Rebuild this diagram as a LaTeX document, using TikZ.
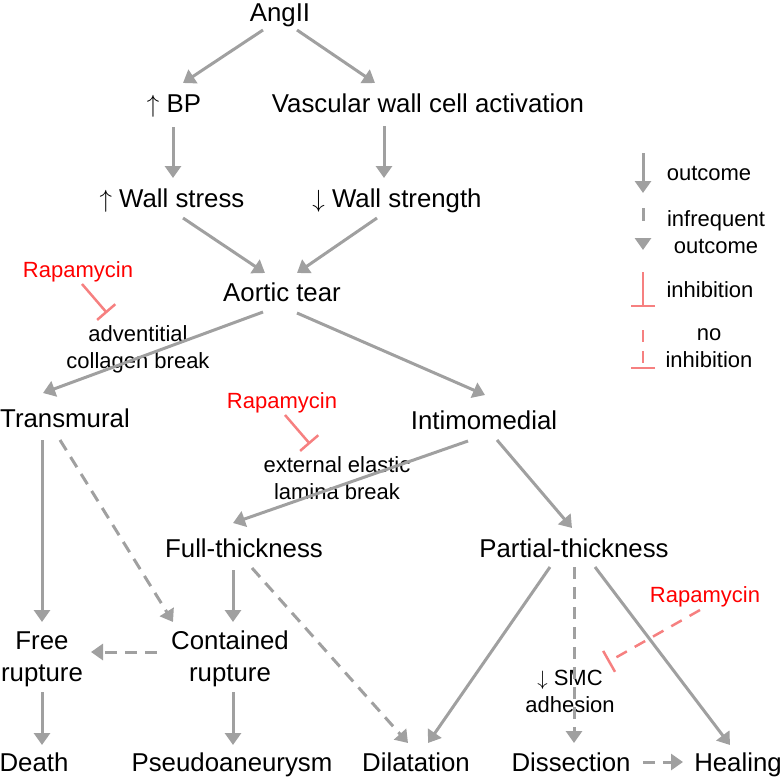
\documentclass[tikz,border=0pt]{standalone}
\usepackage{fontspec}
\setmainfont{Liberation Sans}
\usetikzlibrary{arrows.meta}
\definecolor{flowgray}{RGB}{160,160,160}
\definecolor{inhibred}{RGB}{246,128,128}
\newcommand{\mainsize}{\fontsize{25.8}{32}\selectfont}
\newcommand{\smallsize}{\fontsize{22}{27}\selectfont}
\newcommand{\up}{$\uparrow$}
\newcommand{\down}{$\downarrow$}

\begin{document}
\begin{tikzpicture}[x=1pt,y=-1pt,
  lbl/.style={font=\mainsize, inner sep=0pt, text height=18.6pt, text depth=0pt},
  lbltwo/.style={font=\mainsize, inner sep=0pt, align=center},
  note/.style={font=\smallsize, inner sep=0pt, align=center},
  key/.style={font=\smallsize, inner sep=0pt, text height=15.8pt, text depth=0pt},
  drug/.style={key, text=red},
  leads/.style={draw=flowgray, line width=3pt, -{Triangle[length=12pt,width=16pt]}},
  rare/.style={leads, dash pattern=on 12pt off 8pt},
  blocks/.style={draw=inhibred, line width=2.5pt, -{Bar[width=24pt]}},
  noblock/.style={blocks, dash pattern=on 12pt off 9pt}]
\useasboundingbox (0,0) rectangle (781,777);

% cascade
\node[lbl] (angii) at (280,12) {AngII};
\node[lbl] (bp) at (174,103) {\up\ BP};
\node[lbl] (vasc) at (428,103) {Vascular wall cell activation};
\node[lbl] (stress) at (172,198) {\up\ Wall stress};
\node[lbl] (strength) at (397,198) {\down\ Wall strength};
\node[lbl] (tear) at (282,292) {Aortic tear};
\node[drug] (rapa1) at (78,270) {Rapamycin};
\node[note] (advent) at (138,349) {adventitial\\collagen break};
\node[lbl] (transm) at (65,418) {Transmural};
\node[drug] (rapa2) at (282,401) {Rapamycin};
\node[lbl] (intimo) at (484,420) {Intimomedial};
\node[note] (eel) at (337,478.5) {external elastic\\lamina break};
\node[lbl] (full) at (244,548) {Full-thickness};
\node[lbl] (partial) at (574,548) {Partial-thickness};
\node[drug] (rapa3) at (705,595) {Rapamycin};
\node[lbltwo] (free) at (42,659) {Free\\rupture};
\node[lbltwo] (contained) at (230,659) {Contained\\rupture};
\node[note] (smc) at (570,691.5) {\down\ SMC\\adhesion};
\node[lbl] (death) at (34,762) {Death};
\node[lbl] (pseudo) at (232,762) {Pseudoaneurysm};
\node[lbl] (dilat) at (416,762) {Dilatation};
\node[lbl] (dissect) at (571,762) {Dissection};
\node[lbl] (healing) at (738,762) {Healing};

\draw[leads] ([shift={(-17,18)}]angii.center) -- ([shift={(9,-20)}]bp.center);
\draw[leads] ([shift={(17,18)}]angii.center) -- ([shift={(-53,-20)}]vasc.center);
\draw[leads] ([shift={(-1,24)}]bp.center) -- ([shift={(1,-20)}]stress.center);
\draw[leads] ([shift={(-44,23)}]vasc.center) -- ([shift={(-13,-20)}]strength.center);
\draw[leads] ([shift={(11,20)}]stress.center) -- ([shift={(-17,-19)}]tear.center);
\draw[leads] ([shift={(-20,20)}]strength.center) -- ([shift={(15,-19)}]tear.center);
\draw[leads] ([shift={(-19,20)}]tear.center) -- ([shift={(-22,-25)}]transm.center);
\draw[leads] ([shift={(15,21)}]tear.center) -- ([shift={(1,-25)}]intimo.center);
\draw[blocks] ([shift={(4,14)}]rapa1.center) -- ([shift={(-31,-36)}]advent.center);
\draw[blocks] ([shift={(3,14)}]rapa2.center) -- ([shift={(-27,-34.5)}]eel.center);
\draw[leads] ([shift={(-16,21)}]intimo.center) -- ([shift={(-11,-25)}]full.center);
\draw[leads] ([shift={(13,20)}]intimo.center) -- ([shift={(-2,-20)}]partial.center);
\draw[leads] ([shift={(-23,22)}]transm.center) -- ([shift={(0,-37)}]free.center);
\draw[rare] ([shift={(-5,22)}]transm.center) -- ([shift={(-57,-37)}]contained.center);
\draw[leads] ([shift={(-11,22)}]full.center) -- ([shift={(3,-37)}]contained.center);
\draw[rare] ([shift={(8,20)}]full.center) -- ([shift={(-8,-19)}]dilat.center);
\draw[rare] ([shift={(-73,-7)}]contained.center) -- ([shift={(49,-7)}]free.center);
\draw[leads] ([shift={(0,33)}]free.center) -- ([shift={(8,-17)}]death.center);
\draw[leads] ([shift={(3,33)}]contained.center) -- ([shift={(1,-17)}]pseudo.center);
\draw[leads] ([shift={(-24,19)}]partial.center) -- ([shift={(12,-19)}]dilat.center);
\draw[rare] ([shift={(0,19)}]partial.center) -- ([shift={(3,-19)}]dissect.center);
\draw[leads] ([shift={(21,19)}]partial.center) -- ([shift={(-8,-17)}]healing.center);
\draw[rare] ([shift={(72,0)}]dissect.center) -- ([shift={(-55,0)}]healing.center);
\draw[noblock] ([shift={(-5,15)}]rapa3.center) -- ([shift={(38,-29.5)}]smc.center);

% legend
\coordinate (lo1) at (643,153);
\coordinate (lo2) at (643,193);
\coordinate (lf1) at (643,208);
\coordinate (lf2) at (643,250);
\coordinate (li1) at (643,272);
\coordinate (li2) at (643,307);
\coordinate (ln1) at (643,330);
\coordinate (ln2) at (643,369);
\draw[leads] (lo1) -- (lo2);
\draw[leads, dash pattern=on 13pt off 20pt] (lf1) -- (lf2);
\draw[blocks] (li1) -- (li2);
\draw[noblock] (ln1) -- (ln2);
\node[key] (lgout) at (709,173) {outcome};
\node[note] (lginf) at (716,232) {infrequent\\outcome};
\node[key] (lginh) at (710,290) {inhibition};
\node[note] (lgno) at (709,348.5) {no\\inhibition};
\end{tikzpicture}
\end{document}
